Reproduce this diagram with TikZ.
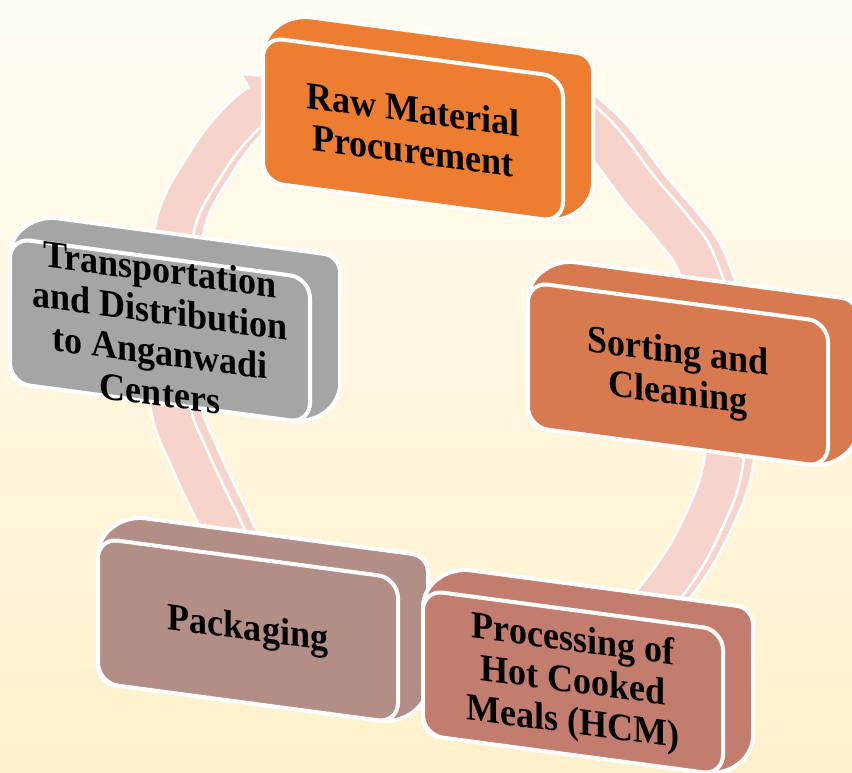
\documentclass[tikz,border=0pt]{standalone}
\usepackage{fontspec}
\setmainfont{Liberation Serif}
\definecolor{bgtop}{HTML}{FFFCF3}
\definecolor{bgbot}{HTML}{FFF1CB}
\definecolor{ringpink}{HTML}{F6D4CB}
\definecolor{rawc}{HTML}{ED7D31}
\definecolor{sortc}{HTML}{D87A50}
\definecolor{procc}{HTML}{C37D6E}
\definecolor{packc}{HTML}{B38E87}
\definecolor{transc}{HTML}{A5A5A5}
\newcommand{\cubebox}[5]{%
\begin{scope}[shift={(#2,#3)}]
\draw[boxedge, fill=#4, rounded corners=16pt] (0,0) -- (30,-22) -- (330,18) -- (330,163) -- (300,185) -- (0,145) -- cycle;
\draw[boxedge, fill=#4, rounded corners=20pt] (0,0) -- (300,40) -- (300,185) -- (0,145) -- cycle;
\begin{scope}[shift={(150,93)}, yslant=-0.133, xscale=1.03, yscale=1.1]
\node[boxtext, transform shape] (#1) at (0,0) {#5};
\end{scope}
\end{scope}}
\begin{document}
\begin{tikzpicture}[x=1pt,y=-1pt]
\tikzset{
  boxedge/.style={draw=white, line width=4pt, line join=round},
  boxtext/.style={align=center, inner sep=0pt, font=\fontsize{35}{37.5}\selectfont\bfseries, text=black},
  ringline/.style={draw=white, line width=42pt, postaction={draw=ringpink, line width=36.5pt}},
  headwhite/.style={draw=white, fill=white, line width=5.5pt, line join=round},
}
\useasboundingbox (0,0) rectangle (852,773);
\shade[top color=bgtop, bottom color=bgbot] (0,0) rectangle (852,773);

% ring: back copy (3D side)
\begin{scope}[shift={(10.5,-2)}]
\draw[headwhite] (243.5,75.6) -- (303,79) -- (276.5,132.4) -- cycle;
\draw[ringline] plot[smooth cycle, tension=0.6] coordinates {(176,222) (205,165) (235,125) (268,98) (330,68) (420,55) (515,75) (590,128) (640,190) (674,230) (697,265) (722,350) (724,458) (702,525) (666,585) (605,650) (500,690) (390,680) (295,625) (245,570) (217,517) (190,460) (170,405) (166,310)};
\fill[ringpink] (243.5,75.6) -- (303,79) -- (276.5,132.4) -- cycle;
\end{scope}
% ring: front
\draw[headwhite] (243.5,75.6) -- (303,79) -- (276.5,132.4) -- cycle;
\draw[ringline] plot[smooth cycle, tension=0.6] coordinates {(176,222) (205,165) (235,125) (268,98) (330,68) (420,55) (515,75) (590,128) (640,190) (674,230) (697,265) (722,350) (724,458) (702,525) (666,585) (605,650) (500,690) (390,680) (295,625) (245,570) (217,517) (190,460) (170,405) (166,310)};
\fill[ringpink] (243.5,75.6) -- (303,79) -- (276.5,132.4) -- cycle;

% boxes
\cubebox{raw}{263}{37}{rawc}{Raw Material\\Procurement}
\cubebox{sort}{528}{282}{sortc}{Sorting and\\Cleaning}
\cubebox{trans}{10}{238}{transc}{Transportation\\and Distribution\\to Anganwadi\\Centers}
\cubebox{pack}{98}{538}{packc}{Packaging}
\cubebox{proc}{423}{590}{procc}{Processing of\\Hot Cooked\\Meals (HCM)}
\end{tikzpicture}
\end{document}
